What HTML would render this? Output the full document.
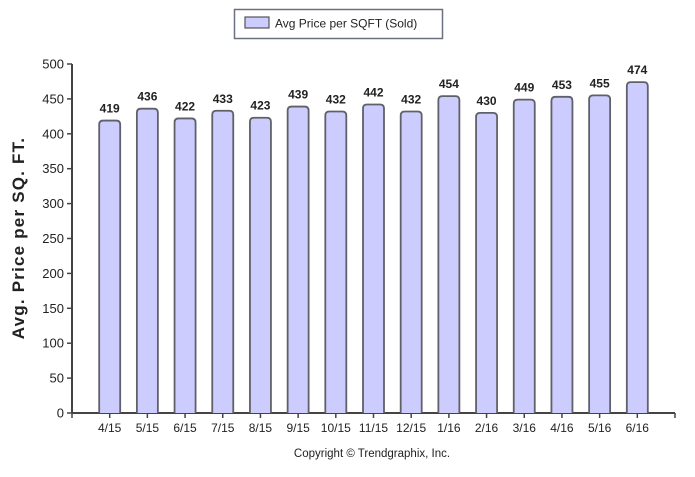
<!DOCTYPE html>
<html><head><meta charset="utf-8"><style>
body{margin:0;background:#fff;font-family:"Liberation Sans",sans-serif;}
svg text{font-family:"Liberation Sans",sans-serif;}
</style></head><body>
<svg width="695" height="472" viewBox="0 0 695 472">
<g>
<rect x="234.5" y="9.5" width="208" height="29" fill="#fff" stroke="#6a7080" stroke-width="1.5"/>
<rect x="245" y="17" width="24" height="11" fill="#ccccff" stroke="#555" stroke-width="1.2"/>
<text x="275" y="27.5" font-size="12" fill="#222">Avg Price per SQFT (Sold)</text>
</g>
<text transform="translate(24,238) rotate(-90)" text-anchor="middle" font-size="17" letter-spacing="1.2" font-weight="bold" fill="#222">Avg. Price per SQ. FT.</text>
<g id="axes"></g>
<g id="bars"></g>
<text x="372" y="457" text-anchor="middle" font-size="11.5" fill="#222">Copyright © Trendgraphix, Inc.</text>
</svg>
<script>
const categories=["4/15","5/15","6/15","7/15","8/15","9/15","10/15","11/15","12/15","1/16","2/16","3/16","4/16","5/16","6/16"];
const values=[419,436,422,433,423,439,432,442,432,454,430,449,453,455,474];
const yTicks=[0,50,100,150,200,250,300,350,400,450,500];
const NS="http://www.w3.org/2000/svg";
const x0=72,x1=675,y0=413,y1=64,yMax=500;
const step=(x1-x0)/(categories.length+1);
const xs=i=>x0+step*(i+1);
const ys=v=>y0-(v/yMax)*(y0-y1);
function mk(t,a,p){const e=document.createElementNS(NS,t);for(const k in a)e.setAttribute(k,a[k]);p.appendChild(e);return e;}
const ax=document.getElementById('axes'),bg=document.getElementById('bars');
const yl=mk('line',{x1:x0,y1:y1,x2:x0,y2:y0,stroke:'#444','stroke-width':2},ax);


const xl=mk('line',{x1:x0,y1:y0,x2:x1,y2:y0,stroke:'#444','stroke-width':2},ax);


yTicks.forEach(v=>{const y=ys(v);
mk('line',{x1:x0-5,y1:y,x2:x0,y2:y,stroke:'#444','stroke-width':1.5},ax);
const t=mk('text',{x:x0-8,y:y+4.5,'text-anchor':'end','font-size':13,fill:'#222'},ax);t.textContent=v;

});
[x0,x1].forEach(x=>mk('line',{x1:x,y1:y0,x2:x,y2:y0+5,stroke:'#444','stroke-width':1.5},ax));
categories.forEach((c,i)=>{const x=xs(i),v=values[i],y=ys(v),w=21;
mk('line',{x1:x,y1:y0,x2:x,y2:y0+5,stroke:'#444','stroke-width':1.5},ax);
const t=mk('text',{x:x,y:y0+19,'text-anchor':'middle','font-size':12,fill:'#222'},ax);t.textContent=c;


const r=mk('path',{d:`M${x-w/2},${y0} L${x-w/2},${y+4} Q${x-w/2},${y} ${x-w/2+4},${y} L${x+w/2-4},${y} Q${x+w/2},${y} ${x+w/2},${y+4} L${x+w/2},${y0}`,fill:'#ccccff',stroke:'#606068','stroke-width':1.8},bg);


const l=mk('text',{x:x,y:y-8,'text-anchor':'middle','font-size':12,'font-weight':'bold',fill:'#222'},bg);l.textContent=v;

});
</script>
</body></html>
